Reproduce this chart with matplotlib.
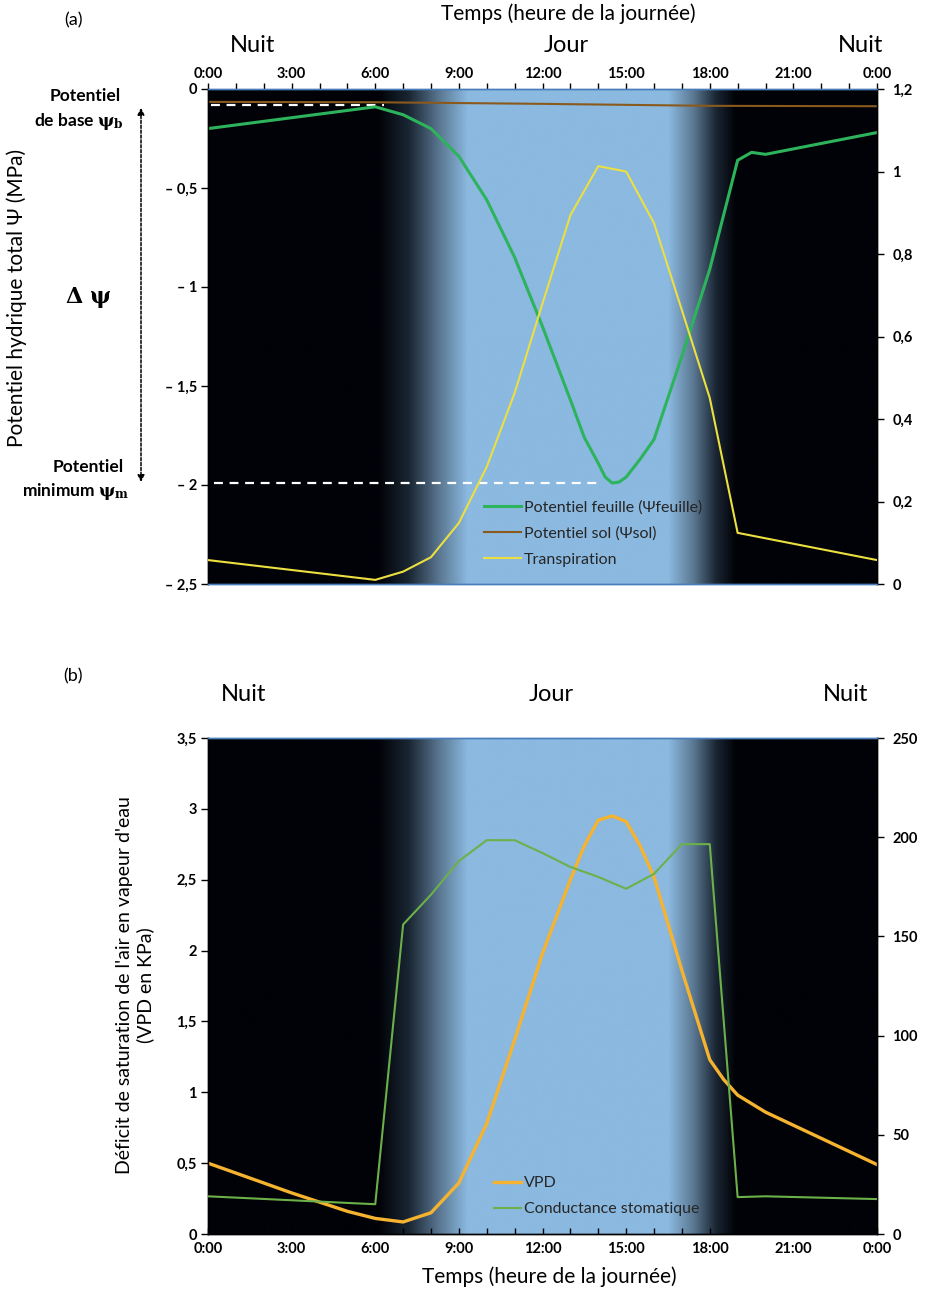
import numpy as np
import matplotlib
matplotlib.use("Agg")
import matplotlib.pyplot as plt
from matplotlib import transforms

plt.rcParams['font.family'] = ['Lato', 'DejaVu Sans']
plt.rcParams['mathtext.fontset'] = 'dejavuserif'

# ---- data, panel (a)
leaf_h = [0, 6, 7, 8, 9, 10, 11, 12, 13, 13.5, 14, 14.25, 14.5, 14.75, 15, 15.5, 16, 17, 18,
          19, 19.5, 20, 24]
leaf_psi = [-0.20, -0.09, -0.13, -0.20, -0.34, -0.56, -0.85, -1.20, -1.57, -1.76, -1.89, -1.96,
            -1.99, -1.985, -1.96, -1.87, -1.77, -1.35, -0.91, -0.36, -0.32, -0.33, -0.22]
soil_h = [0, 6, 12, 18, 24]
soil_psi = [-0.065, -0.067, -0.075, -0.085, -0.087]
transp_h = [0, 6, 7, 8, 9, 10, 11, 12, 13, 14, 15, 16, 17, 18, 19, 24]
transp = [0.058, 0.01, 0.03, 0.065, 0.148, 0.284, 0.463, 0.68, 0.894, 1.013, 1.0, 0.875,
          0.664, 0.451, 0.124, 0.058]
psi_base = -0.08
psi_min = -1.99
base_line_h = (0.1, 6.3)
min_line_h = (0.2, 14.0)

# ---- data, panel (b)
vpd_h = [0, 3, 5, 6, 7, 8, 9, 10, 11, 12, 13, 13.5, 14, 14.5, 15, 15.5, 16, 17, 18, 18.5, 19, 20, 24]
vpd = [0.50, 0.29, 0.16, 0.11, 0.085, 0.15, 0.36, 0.78, 1.37, 1.98, 2.50, 2.74, 2.92, 2.95,
       2.91, 2.74, 2.52, 1.86, 1.23, 1.09, 0.98, 0.86, 0.49]
gs_h = [0, 6, 7, 8, 9, 10, 11, 12, 13, 14, 15, 16, 17, 18, 19, 20, 24]
gs = [19, 15, 156, 171, 188, 198.5, 198.5, 192, 185, 180, 174, 181.5, 196.5, 196.5, 18.6, 19, 17.6]

# ---- ticks
hour_major = np.arange(0, 25, 3)
hour_labels = ['0:00', '3:00', '6:00', '9:00', '12:00', '15:00', '18:00', '21:00', '0:00']
psi_ticks = [-2.5, -2, -1.5, -1, -0.5, 0]
psi_labels = ['– 2,5', '– 2', '– 1,5', '– 1', '– 0,5', '0']
tr_ticks = [0, 0.2, 0.4, 0.6, 0.8, 1.0, 1.2]
tr_labels = ['0', '0,2', '0,4', '0,6', '0,8', '1', '1,2']
vpd_ticks = [0, 0.5, 1, 1.5, 2, 2.5, 3, 3.5]
vpd_labels = ['0', '0,5', '1', '1,5', '2', '2,5', '3', '3,5']
gs_ticks = [0, 50, 100, 150, 200, 250]

# background day/night gradient
bg_stops = [0, 6.1, 7.2, 8.3, 9.3, 16.5, 17.4, 18.2, 18.9, 24]
bg_cols = ['#010207', '#010207', '#1a2633', '#5b7892', '#8bb9e0', '#8bb9e0', '#5b7892',
           '#1a2633', '#010207', '#010207']


def hex2rgb(c):
    return [int(c[i:i + 2], 16) / 255 for i in (1, 3, 5)]


grid = np.linspace(0, 24, 1500)
rgb = np.array([hex2rgb(c) for c in bg_cols])
bg_img = np.stack([np.interp(grid, bg_stops, rgb[:, k]) for k in range(3)], axis=-1)[None, :, :]

W, H = 946, 1289
fig = plt.figure(figsize=(W / 100, H / 100), dpi=100)


def fx(px):
    return px / W


def fy(py):
    return 1 - py / H


def setup(ax, ax2, ylo, yhi, ylo2, yhi2):
    ax.imshow(bg_img, extent=[0, 24, ylo, yhi], aspect='auto', zorder=0, interpolation='bilinear')
    ax.set_xlim(0, 24)
    ax.set_ylim(ylo, yhi)
    ax2.set_ylim(ylo2, yhi2)
    ax.set_xticks(hour_major)
    ax.set_xticks(np.arange(0, 25, 1), minor=True)
    ax.set_xticklabels(hour_labels, fontweight='bold', fontsize=10.5)
    for a in (ax, ax2):
        for s in a.spines.values():
            s.set_color('black')
            s.set_linewidth(1.0)
    ax.tick_params(axis='y', length=5, width=1, labelsize=10.5, pad=3)
    ax2.tick_params(axis='y', length=5, width=1, labelsize=10.5, pad=6)


# ================= panel (a)
ax = fig.add_axes([fx(208), fy(584), fx(877) - fx(208), fy(89) - fy(584)])
ax2 = ax.twinx()
setup(ax, ax2, -2.5, 0, 0, 1.2)
ax.xaxis.tick_top()
ax.tick_params(axis='x', which='both', direction='out', length=4, width=1, pad=2)
for a in (ax, ax2):
    a.spines['top'].set_color('#4a7ebb')
    a.spines['bottom'].set_color('#4a7ebb')
ax.set_yticks(psi_ticks)
ax.set_yticklabels(psi_labels, fontweight='bold')
ax2.set_yticks(tr_ticks)
ax2.set_yticklabels(tr_labels, fontweight='bold')

ax.hlines(psi_base, *base_line_h, colors='white', linestyles=(0, (4, 3)), lw=1.6, zorder=2)
ax.hlines(psi_min, *min_line_h, colors='white', linestyles=(0, (4, 3)), lw=1.6, zorder=2)
l_leaf, = ax.plot(leaf_h, leaf_psi, color='#2db35c', lw=2.2, zorder=3)
l_soil, = ax.plot(soil_h, soil_psi, color='#8a5a1c', lw=1.5, zorder=3)
l_tr, = ax2.plot(transp_h, transp, color='#ebe040', lw=1.5, zorder=3)

leg = ax2.legend([l_leaf, l_soil, l_tr],
                 ['Potentiel feuille (Ψfeuille)', 'Potentiel sol (Ψsol)', 'Transpiration'],
                 loc='upper left', bbox_to_anchor=(fx(476), fy(492)), bbox_transform=fig.transFigure,
                 frameon=False, fontsize=11.5, handlelength=2.3, handletextpad=0.2,
                 labelspacing=0.75, borderpad=0)
for t in leg.get_texts():
    t.set_color('#262626')

fig.text(fx(73), fy(20), '(a)', fontsize=13, ha='center', va='center')
fig.text(fx(568), fy(14), 'Temps (heure de la journée)', fontsize=15, ha='center', va='center')
for txt, px in (('Nuit', 253), ('Jour', 566), ('Nuit', 861)):
    fig.text(fx(px), fy(45), txt, fontsize=17, ha='center', va='center')
fig.text(fx(17), fy(298), 'Potentiel hydrique total Ψ (MPa)', fontsize=15, rotation=90,
         ha='center', va='center')

fig.text(fx(85), fy(96), 'Potentiel', fontsize=12.5, fontweight='bold', ha='center', va='center')
fig.text(fx(79), fy(121), r'de base $\mathbf{\psi_b}$', fontsize=12.5, fontweight='bold',
         ha='center', va='center')
fig.text(fx(88), fy(298), r'$\mathbf{\Delta\ \psi}$', fontsize=16, ha='center', va='center')
fig.text(fx(88), fy(467), 'Potentiel', fontsize=12.5, fontweight='bold', ha='center', va='center')
fig.text(fx(76), fy(492), r'minimum $\mathbf{\psi_m}$', fontsize=12.5, fontweight='bold',
         ha='center', va='center')
tr_fig = transforms.blended_transform_factory(fig.transFigure, ax.transData)
ax.annotate('', xy=(fx(141), psi_base - 0.015), xytext=(fx(141), psi_min + 0.005),
            xycoords=tr_fig, textcoords=tr_fig, annotation_clip=False,
            arrowprops=dict(arrowstyle='<|-|>', linestyle=(0, (2, 1.2)), lw=1.1, color='black',
                            mutation_scale=10, shrinkA=0, shrinkB=0))

# ================= panel (b)
bx = fig.add_axes([fx(208), fy(1234), fx(877) - fx(208), fy(738) - fy(1234)])
bx2 = bx.twinx()
setup(bx, bx2, 0, 3.5, 0, 250)
bx.tick_params(axis='x', which='both', direction='in', length=4, width=1, pad=6)
bx.spines['top'].set_color('#4a7ebb')
bx2.spines['top'].set_color('#4a7ebb')
bx.set_yticks(vpd_ticks)
bx.set_yticklabels(vpd_labels, fontweight='bold')
bx2.set_yticks(gs_ticks)
bx2.set_yticklabels([str(v) for v in gs_ticks], fontweight='bold')

l_vpd, = bx.plot(vpd_h, vpd, color='#f5b330', lw=2.4, zorder=3)
l_gs, = bx2.plot(gs_h, gs, color='#6cb04a', lw=1.5, zorder=3)

leg2 = bx2.legend([l_vpd, l_gs], ['VPD', 'Conductance stomatique'],
                  loc='upper left', bbox_to_anchor=(fx(486), fy(1168)), bbox_transform=fig.transFigure,
                  frameon=False, fontsize=11.5, handlelength=1.7, handletextpad=0.2,
                  labelspacing=0.75, borderpad=0)
for t in leg2.get_texts():
    t.set_color('#262626')

fig.text(fx(73), fy(676), '(b)', fontsize=13, ha='center', va='center')
for txt, px in (('Nuit', 244), ('Jour', 551), ('Nuit', 846)):
    fig.text(fx(px), fy(695), txt, fontsize=17, ha='center', va='center')
fig.text(fx(549), fy(1277), 'Temps (heure de la journée)', fontsize=15, ha='center', va='center')
fig.text(fx(135), fy(985), "Déficit de saturation de l'air en vapeur d'eau\n(VPD en KPa)",
         fontsize=14, rotation=90, ha='center', va='center', multialignment='center')

fig.savefig('out.png', dpi=100)
